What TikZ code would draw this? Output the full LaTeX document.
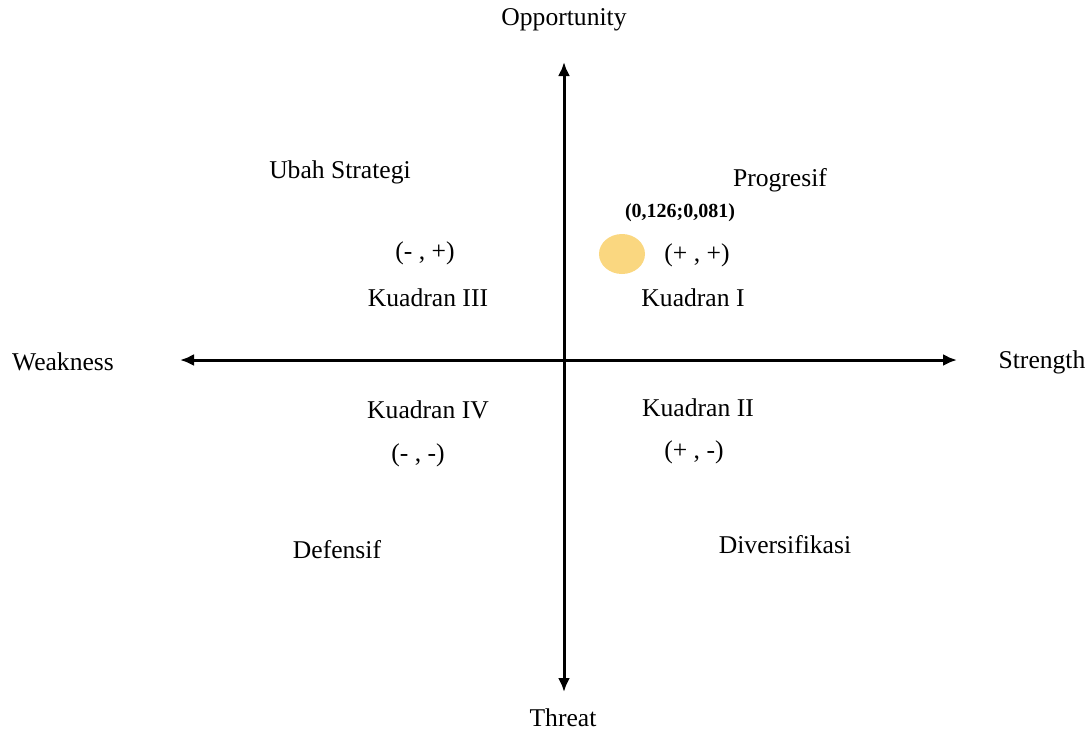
\documentclass[tikz,border=0pt]{standalone}
\usepackage{fontspec}
\setmainfont{Liberation Serif}
\usetikzlibrary{arrows.meta,shapes.geometric}
\definecolor{dotyellow}{RGB}{250,215,128}

\begin{document}
\begin{tikzpicture}[x=0.5pt,y=-0.5pt,>={Latex[length=7pt,width=6pt]},
	lbl/.style={font=\fontsize{12.8}{15}\selectfont,inner sep=0pt},
	axis/.style={line width=1.5pt,<->}]
	\useasboundingbox (0,0) rectangle (1089,730);
	% axes
	\coordinate (top) at (564,62);
	\coordinate (bottom) at (564,692);
	\coordinate (left) at (180,360);
	\coordinate (right) at (957,360);
	\draw [axis] (bottom) -- (top);
	\draw [axis] (left) -- (right);
	\node [lbl] (opp) at (564,20) {Opportunity};
	\node [lbl] (thr) at (563,718) {Threat};
	\node [lbl] (weak) at (63,362) {Weakness};
	\node [lbl] (str) at (1042,362) {Strength};
	% quadrants
	\foreach \n/\x/\y/\t in {ubah/340/172/Ubah Strategi, prog/780/180/Progresif,
		mp/425/253/{(- , +)}, pp/697/255/{(+ , +)},
		k3/428/298/Kuadran III, k1/693/298/Kuadran I,
		k4/428/410/Kuadran IV, k2/698/408/Kuadran II,
		mm/418/455/{(- , -)}, pm/694/452/{(+ , -)},
		def/337/550/Defensif, div/785/545/Diversifikasi} {
		\node [lbl] (\n) at (\x,\y) {\t};
	}
	% position
	\node [ellipse,fill=dotyellow,inner sep=0pt,
		minimum width=23pt,minimum height=20pt] (dot) at (622,254) {};
	\node [lbl,font=\fontsize{10}{12}\selectfont\bfseries] (val) at (680,213) {(0,126;0,081)};
\end{tikzpicture}
\end{document}
